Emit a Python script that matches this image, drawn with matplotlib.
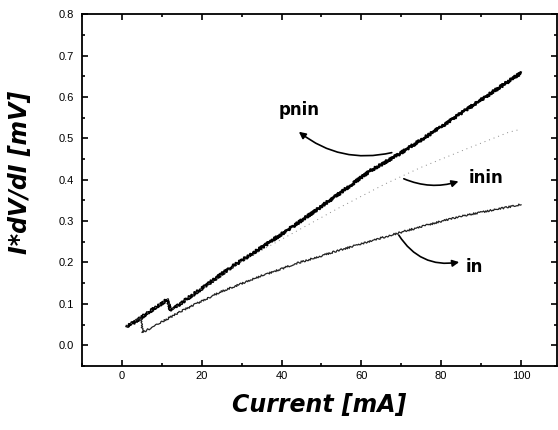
import matplotlib
matplotlib.use("Agg")
import matplotlib.pyplot as plt
from matplotlib.ticker import MultipleLocator

plt.rcParams['font.family'] = ['Liberation Sans', 'DejaVu Sans']

# values
pnin_x = [1.2, 3.0, 6.0, 9.0, 11.5, 12.2, 20, 27, 35, 44.5, 55, 62, 70, 80, 90, 100]
pnin_y = [0.046, 0.055, 0.075, 0.095, 0.111, 0.084, 0.137, 0.186, 0.236, 0.298, 0.37, 0.42, 0.465, 0.528, 0.593, 0.658]

inin_x = [1.2, 6.0, 11.5, 12.2, 20, 30, 44, 54, 66, 75, 87, 97, 100]
inin_y = [0.046, 0.075, 0.111, 0.084, 0.136, 0.203, 0.277, 0.33, 0.39, 0.43, 0.477, 0.515, 0.522]

in_x = [3.5, 4.8, 5.2, 15, 24.5, 35, 44.5, 55, 69.5, 84.5, 99, 100]
in_y = [0.062, 0.067, 0.031, 0.083, 0.128, 0.168, 0.2, 0.231, 0.272, 0.311, 0.338, 0.34]

fig = plt.figure(figsize=(5.58, 4.30), dpi=100)
ax = fig.add_axes([0.147, 0.149, 0.851, 0.818])

l1, = ax.plot(pnin_x, pnin_y, color='black', lw=1.8)
l1.set_sketch_params(scale=1.2, length=3, randomness=2)
ax.plot(inin_x, inin_y, color='#888888', lw=0.7, ls=(0, (1, 4)))
l3, = ax.plot(in_x, in_y, color='#222222', lw=0.9)
l3.set_sketch_params(scale=0.9, length=2, randomness=2)

arrow = dict(arrowstyle='-|>', color='black', lw=1.2, mutation_scale=10)
ax.annotate('', xy=(43.8, 0.52), xytext=(68.3, 0.467),
            arrowprops=dict(arrow, connectionstyle='arc3,rad=-0.25'))
ax.annotate('', xy=(85, 0.398), xytext=(70, 0.405),
            arrowprops=dict(arrow, connectionstyle='arc3,rad=0.2'))
ax.annotate('', xy=(85.2, 0.202), xytext=(69, 0.272),
            arrowprops=dict(arrow, connectionstyle='arc3,rad=0.35'))

lab = dict(fontsize=12, fontweight='bold', va='center', family='DejaVu Sans')
ax.text(44.5, 0.569, 'pnin', ha='center', **lab)
ax.text(87, 0.405, 'inin', ha='left', **lab)
ax.text(86.2, 0.188, 'in', ha='left', **lab)

ax.set_xlim(-10, 109)
ax.set_ylim(-0.05, 0.8)
ax.xaxis.set_major_locator(MultipleLocator(20))
ax.xaxis.set_minor_locator(MultipleLocator(10))
ax.yaxis.set_major_locator(MultipleLocator(0.1))
ax.yaxis.set_minor_locator(MultipleLocator(0.05))
ax.tick_params(which='both', direction='in', top=True, right=True, labelsize=8, width=1.2)
ax.tick_params(which='major', length=4)
ax.tick_params(which='minor', length=2.5)
ax.tick_params(axis='y', pad=6)
ax.set_xticks([0, 20, 40, 60, 80, 100])
ax.set_yticks([0.0, 0.1, 0.2, 0.3, 0.4, 0.5, 0.6, 0.7, 0.8])
ax.set_yticklabels(['0.0', '0.1', '0.2', '0.3', '0.4', '0.5', '0.6', '0.7', '0.8'])
for s in ax.spines.values():
    s.set_linewidth(1.3)

axlab = dict(fontsize=17, fontweight='bold', fontstyle='italic', family='DejaVu Sans')
ax.set_xlabel('Current [mA]', labelpad=9, **axlab)
ax.set_ylabel('I*dV/dI [mV]', labelpad=14, **axlab)
ax.yaxis.set_label_coords(-0.105, 0.55)

fig.savefig('out.png', dpi=100)
